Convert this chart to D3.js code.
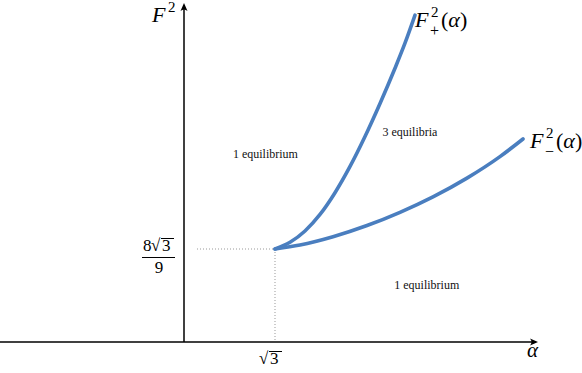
<!DOCTYPE html>
<html><head><meta charset="utf-8">
<script src="https://cdn.jsdelivr.net/npm/d3@7"></script>
<style>html,body{margin:0;padding:0;background:#fff;}svg{display:block;}</style>
</head><body>
<svg id="c" width="582" height="373"></svg>
<script>
// Data (alpha, F^2)
const S3 = Math.sqrt(3);
const F0 = 8 * S3 / 9;
const fPlusAlpha = [1.732, 2.018, 2.303, 2.589, 2.874, 3.160, 3.445, 3.731, 4.016, 4.206, 4.397];
const fPlusF2    = [1.540, 1.651, 1.838, 2.111, 2.471, 2.906, 3.402, 3.949, 4.532, 4.946, 5.410];
const fMinusAlpha = [1.732, 2.208, 2.836, 3.483, 4.111, 4.739, 5.386, 6.014, 6.452];
const fMinusF2    = [1.540, 1.606, 1.743, 1.928, 2.147, 2.403, 2.713, 3.069, 3.361];
const regionLabels = [
  {text: "1 equilibrium", a: 1.55, f: 3.12},
  {text: "3 equilibria", a: 4.30, f: 3.47},
  {text: "1 equilibrium", a: 4.62, f: 0.94}
];

const svg = d3.select("#c");
const x = d3.scaleLinear().domain([0, S3]).range([184, 275]);
const y = d3.scaleLinear().domain([0, F0]).range([342, 249]);
const xMin = x.invert(0), xMax = x.invert(538), yMax = y.invert(3);

// guide dotted lines
svg.append("line").attr("x1", x(0) + 13).attr("x2", x(S3)).attr("y1", y(F0)).attr("y2", y(F0))
  .attr("stroke", "#999").attr("stroke-width", 1).attr("stroke-dasharray", "1,2");
svg.append("line").attr("x1", x(S3)).attr("x2", x(S3)).attr("y1", y(F0)).attr("y2", y(0))
  .attr("stroke", "#999").attr("stroke-width", 1).attr("stroke-dasharray", "1,2");

// axes
svg.append("line").attr("x1", x(xMin)).attr("x2", x(xMax) - 2).attr("y1", y(0)).attr("y2", y(0))
  .attr("stroke", "#000").attr("stroke-width", 1.5);
svg.append("line").attr("x1", x(0)).attr("x2", x(0)).attr("y1", y(0)).attr("y2", y(yMax) + 2)
  .attr("stroke", "#000").attr("stroke-width", 1.5);
// arrowheads
const ax = x(xMax), ay = y(0);
svg.append("path").attr("d", `M${ax},${ay} L${ax-8},${ay-3.5} Q${ax-5},${ay} ${ax-8},${ay+3.5} Z`).attr("fill", "#000");
const bx = x(0), by = y(yMax);
svg.append("path").attr("d", `M${bx},${by} L${bx-3.5},${by+8} Q${bx},${by+5} ${bx+3.5},${by+8} Z`).attr("fill", "#000");

// curves
const line = d3.line().x(d => x(d[0])).y(d => y(d[1])).curve(d3.curveMonotoneX);
const plus = fPlusAlpha.map((a, i) => [a, fPlusF2[i]]);
const minus = fMinusAlpha.map((a, i) => [a, fMinusF2[i]]);
[plus, minus].forEach(data => {
  svg.append("path").datum(data).attr("d", line).attr("fill", "none")
    .attr("stroke", "#4a7ebf").attr("stroke-width", 3.6).attr("stroke-linecap", "round");
});

const serif = '"Liberation Serif", "Times New Roman", Times, "DejaVu Serif", "Noto Serif", serif';
function T(px, py, size) {
  return svg.append("text").attr("x", px).attr("y", py).attr("font-family", serif)
    .attr("font-size", size).attr("fill", "#000");
}

// region labels
regionLabels.forEach(l => {
  T(x(l.a), y(l.f) + 4, 12).attr("text-anchor", "middle").attr("fill", "#111").text(l.text);
});

// axis labels
function fLabel(px, py, sub, withArg) {
  T(px, py, 22).attr("font-style", "italic").text("F");
  const tx = px + 16;
  T(tx, py - 10, 15).text("2");
  if (sub) T(tx - 1, py + 9, 16).text(sub);
  if (withArg) {
    const g = T(tx + 10, py, 22);
    g.append("tspan").text("(");
    g.append("tspan").attr("font-style", "italic").text("α");
    g.append("tspan").text(")");
  }
}
fLabel(152, 22, null, false);
fLabel(415, 27, "+", true);
fLabel(530, 148, "\u2212", true);

T(527, 357, 21).attr("font-style", "italic").text("α");

// tick label 8√3/9
T(143, 251, 17).text("8");
T(151, 251, 17).text("\u221A");
svg.append("line").attr("x1", 161).attr("x2", 174).attr("y1", 238.5).attr("y2", 238.5).attr("stroke", "#000").attr("stroke-width", 1);
T(162, 251, 17).text("3");
svg.append("line").attr("x1", 142).attr("x2", 175).attr("y1", 257.5).attr("y2", 257.5).attr("stroke", "#000").attr("stroke-width", 1.1);
T(159, 273, 17).attr("text-anchor", "middle").text("9");
// √3 under axis
T(259, 364, 17).text("\u221A");
svg.append("line").attr("x1", 269).attr("x2", 282).attr("y1", 351.5).attr("y2", 351.5).attr("stroke", "#000").attr("stroke-width", 1);
T(270, 364, 17).text("3");
</script>
</body></html>
